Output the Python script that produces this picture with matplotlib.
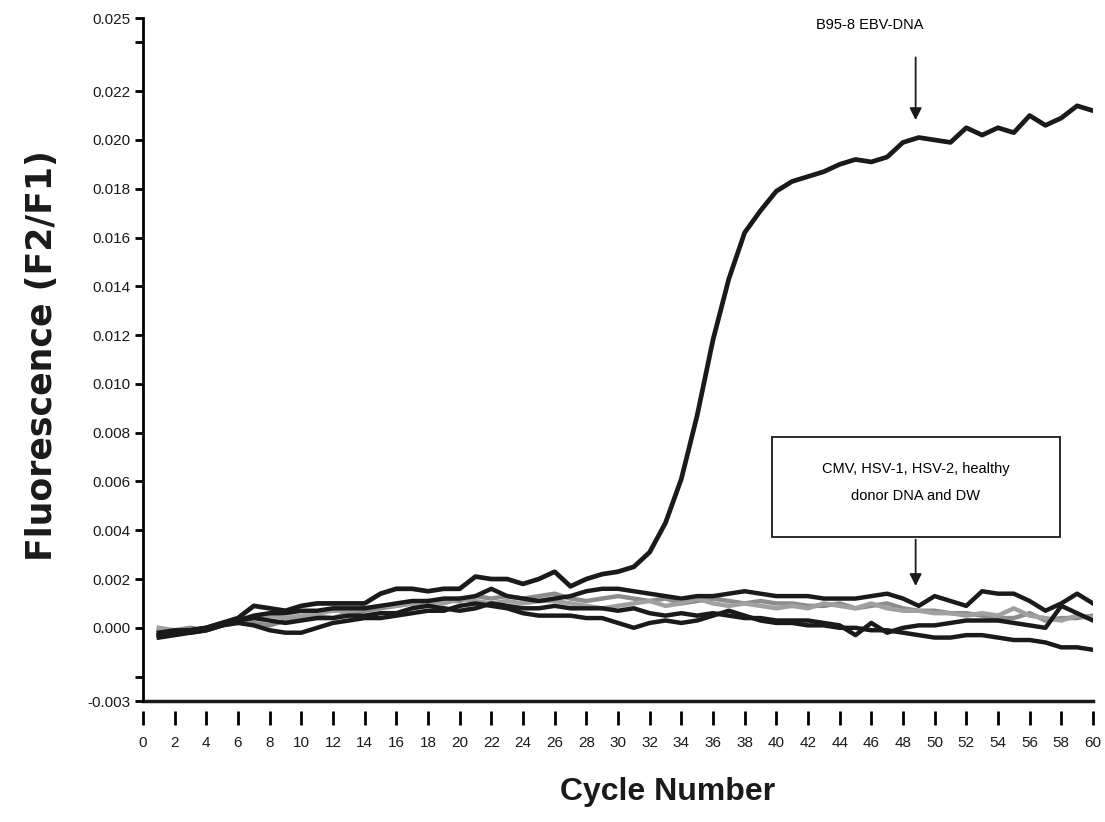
import matplotlib
matplotlib.use("Agg")
import matplotlib.pyplot as plt
from matplotlib.patches import Rectangle

# cycle numbers
cycles = list(range(1, 61))

# B95-8 EBV-DNA (positive control)
ebv = [-0.0003, -0.0002, -0.0001, 0.0000, 0.0002, 0.0004, 0.0009, 0.0008, 0.0007, 0.0009,
       0.0010, 0.0010, 0.0010, 0.0010, 0.0014, 0.0016, 0.0016, 0.0015, 0.0016, 0.0016,
       0.0021, 0.0020, 0.0020, 0.0018, 0.0020, 0.0023, 0.0017, 0.0020, 0.0022, 0.0023,
       0.0025, 0.0031, 0.0043, 0.0061, 0.0087, 0.0118, 0.0143, 0.0162, 0.0171, 0.0179,
       0.0183, 0.0185, 0.0187, 0.0190, 0.0192, 0.0191, 0.0193, 0.0199, 0.0201, 0.0200,
       0.0199, 0.0205, 0.0202, 0.0205, 0.0203, 0.0210, 0.0206, 0.0209, 0.0214, 0.0212]

# negatives: CMV, HSV-1, HSV-2, healthy donor DNA, DW
neg_a = [-0.0002, -0.0001, -0.0001, 0.0000, 0.0002, 0.0003, 0.0005, 0.0006, 0.0006, 0.0007,
         0.0007, 0.0008, 0.0008, 0.0008, 0.0009, 0.0010, 0.0011, 0.0011, 0.0012, 0.0012,
         0.0013, 0.0016, 0.0013, 0.0012, 0.0011, 0.0012, 0.0013, 0.0015, 0.0016, 0.0016,
         0.0015, 0.0014, 0.0013, 0.0012, 0.0013, 0.0013, 0.0014, 0.0015, 0.0014, 0.0013,
         0.0013, 0.0013, 0.0012, 0.0012, 0.0012, 0.0013, 0.0014, 0.0012, 0.0009, 0.0013,
         0.0011, 0.0009, 0.0015, 0.0014, 0.0014, 0.0011, 0.0007, 0.0010, 0.0014, 0.0010]

neg_b = [-0.0003, -0.0002, -0.0002, -0.0001, 0.0001, 0.0002, 0.0001, -0.0001, -0.0002, -0.0002,
         0.0000, 0.0002, 0.0003, 0.0004, 0.0004, 0.0005, 0.0006, 0.0007, 0.0007, 0.0009,
         0.0010, 0.0009, 0.0008, 0.0006, 0.0005, 0.0005, 0.0005, 0.0004, 0.0004, 0.0002,
         0.0000, 0.0002, 0.0003, 0.0002, 0.0003, 0.0005, 0.0007, 0.0005, 0.0003, 0.0002,
         0.0002, 0.0001, 0.0001, 0.0000, 0.0000, -0.0001, -0.0001, -0.0002, -0.0003, -0.0004,
         -0.0004, -0.0003, -0.0003, -0.0004, -0.0005, -0.0005, -0.0006, -0.0008, -0.0008, -0.0009]

neg_c = [-0.0004, -0.0003, -0.0002, -0.0001, 0.0001, 0.0003, 0.0004, 0.0003, 0.0002, 0.0003,
         0.0004, 0.0004, 0.0005, 0.0005, 0.0006, 0.0006, 0.0008, 0.0009, 0.0008, 0.0007,
         0.0008, 0.0010, 0.0009, 0.0008, 0.0008, 0.0009, 0.0008, 0.0008, 0.0008, 0.0007,
         0.0008, 0.0006, 0.0005, 0.0006, 0.0005, 0.0006, 0.0005, 0.0004, 0.0004, 0.0003,
         0.0003, 0.0003, 0.0002, 0.0001, -0.0003, 0.0002, -0.0002, 0.0000, 0.0001, 0.0001,
         0.0002, 0.0003, 0.0003, 0.0003, 0.0002, 0.0001, 0.0000, 0.0009, 0.0006, 0.0003]

neg_d = [-0.0001, -0.0001, 0.0000, -0.0001, 0.0001, 0.0003, 0.0002, 0.0001, 0.0003, 0.0004,
         0.0005, 0.0004, 0.0006, 0.0007, 0.0008, 0.0009, 0.0010, 0.0010, 0.0011, 0.0011,
         0.0013, 0.0012, 0.0013, 0.0012, 0.0013, 0.0014, 0.0012, 0.0011, 0.0012, 0.0013,
         0.0012, 0.0011, 0.0012, 0.0010, 0.0011, 0.0012, 0.0011, 0.0010, 0.0011, 0.0010,
         0.0010, 0.0009, 0.0009, 0.0010, 0.0008, 0.0009, 0.0010, 0.0008, 0.0007, 0.0007,
         0.0006, 0.0006, 0.0005, 0.0004, 0.0004, 0.0006, 0.0003, 0.0004, 0.0004, 0.0005]

neg_e = [0.0000, -0.0001, -0.0001, 0.0000, 0.0001, 0.0002, 0.0004, 0.0005, 0.0004, 0.0005,
         0.0006, 0.0007, 0.0007, 0.0008, 0.0009, 0.0009, 0.0010, 0.0011, 0.0010, 0.0012,
         0.0011, 0.0010, 0.0011, 0.0010, 0.0011, 0.0011, 0.0010, 0.0009, 0.0008, 0.0009,
         0.0010, 0.0011, 0.0009, 0.0010, 0.0012, 0.0010, 0.0009, 0.0010, 0.0009, 0.0008,
         0.0009, 0.0008, 0.0010, 0.0009, 0.0008, 0.0010, 0.0008, 0.0007, 0.0007, 0.0006,
         0.0006, 0.0005, 0.0006, 0.0005, 0.0008, 0.0005, 0.0004, 0.0003, 0.0005, 0.0004]

y_ticks = [-0.003, -0.002, 0.000, 0.002, 0.004, 0.006, 0.008, 0.010, 0.012,
           0.014, 0.016, 0.018, 0.020, 0.022, 0.024, 0.025]
y_labels = ["-0.003", "", "0.000", "0.002", "0.004", "0.006", "0.008", "0.010", "0.012",
            "0.014", "0.016", "0.018", "0.020", "0.022", "", "0.025"]
x_ticks = list(range(0, 61, 2))

plt.rcParams['font.family'] = ['Liberation Sans', 'DejaVu Sans']

fig = plt.figure(figsize=(11.05, 8.22), dpi=100)
ax = fig.add_axes([0.1294, 0.1472, 0.8597, 0.8309])

# gray lines first, black on top
ax.plot(cycles, neg_d, color="#8c8c8c", lw=3.2)
ax.plot(cycles, neg_e, color="#a0a0a0", lw=3.2)
ax.plot(cycles, neg_c, color="#1a1a1a", lw=3.2)
ax.plot(cycles, neg_b, color="#1a1a1a", lw=3.2)
ax.plot(cycles, neg_a, color="#1a1a1a", lw=3.2)
ax.plot(cycles, ebv, color="#1a1a1a", lw=3.4)

ax.set_xlim(0, 60)
ax.set_ylim(-0.003, 0.025)

ax.set_yticks(y_ticks)
ax.set_yticklabels(y_labels)
ax.set_xticks(x_ticks)
ax.set_xticklabels([str(t) for t in x_ticks])

ax.spines['top'].set_visible(False)
ax.spines['right'].set_visible(False)
ax.spines['left'].set_linewidth(2)
# x ticks sit a little below the axis line
ax.spines['bottom'].set_position(('outward', 7))
ax.spines['bottom'].set_visible(False)
ax.axhline(-0.003, color="#1a1a1a", lw=2.5, clip_on=False)

ax.tick_params(axis='y', direction='out', length=6, width=2, labelsize=11, pad=3,
               labelcolor="#1a1a1a")
ax.tick_params(axis='x', direction='out', length=10, width=2, labelsize=11, pad=8,
               labelcolor="#1a1a1a")

fig.text(0.038, 0.568, "Fluorescence (F2/F1)", rotation=90, ha='center', va='center',
         fontsize=25, fontweight='bold', family='DejaVu Sans', color="#1a1a1a")
fig.text(0.604, 0.036, "Cycle Number", ha='center', va='center',
         fontsize=23, fontweight='bold', color="#1a1a1a")

# positive label and arrow
ax.text(45.9, 0.0247, "B95-8 EBV-DNA", ha='center', va='center', fontsize=10.5)
ax.annotate("", xy=(48.8, 0.0207), xytext=(48.8, 0.0235),
            arrowprops=dict(arrowstyle="-|>", color="#1a1a1a", lw=1.3, mutation_scale=18))

# negatives box and arrow
ax.add_patch(Rectangle((39.7, 0.00373), 18.2, 0.0041, fill=False, ec="#1a1a1a", lw=1.3))
ax.text(48.8, 0.0065, "CMV, HSV-1, HSV-2, healthy", ha='center', va='center', fontsize=10.5)
ax.text(48.8, 0.0054, "donor DNA and DW", ha='center', va='center', fontsize=10.5)
ax.annotate("", xy=(48.8, 0.0016), xytext=(48.8, 0.00373),
            arrowprops=dict(arrowstyle="-|>", color="#1a1a1a", lw=1.3, mutation_scale=18))

fig.savefig("out.png", dpi=100)
